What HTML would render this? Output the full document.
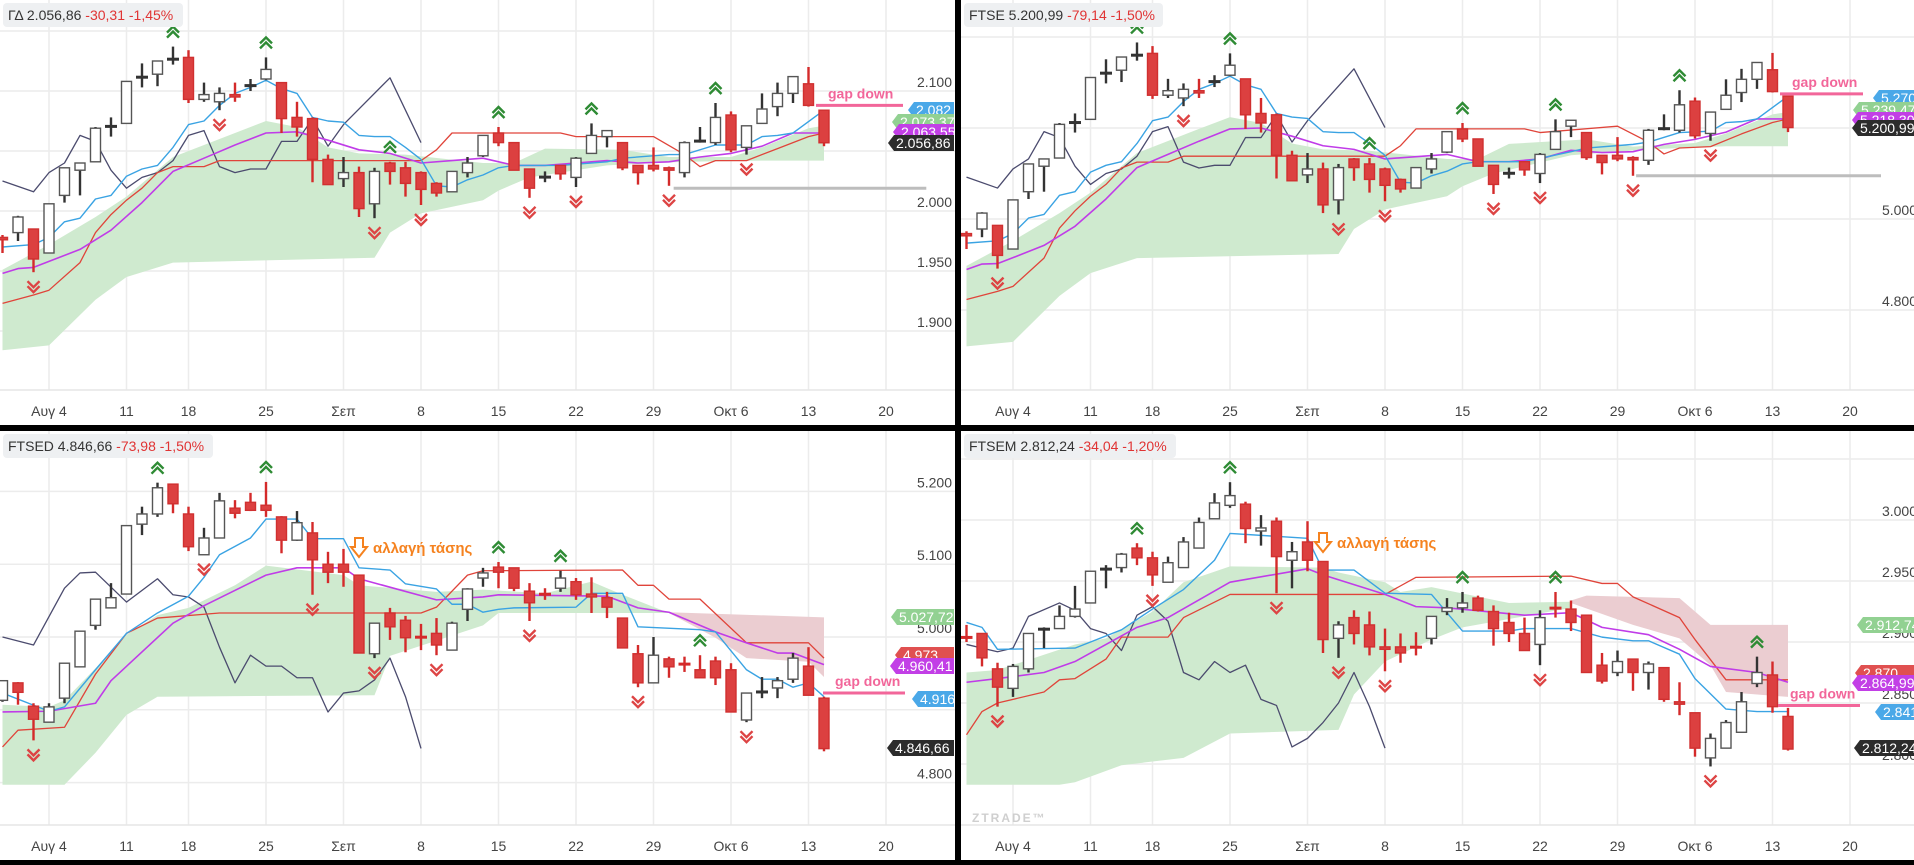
<!DOCTYPE html>
<html><head><meta charset="utf-8">
<style>
html,body{margin:0;padding:0;background:#000;}
svg{display:block;font-family:"Liberation Sans","DejaVu Sans",sans-serif;}
</style></head>
<body>
<svg id="chart" xmlns="http://www.w3.org/2000/svg" width="1914" height="865" viewBox="0 0 1914 865"></svg>
<script>
// ===== Panel 1 : ΓΔ =====
const p1Open=[1978,1982,1985,1965,2013,2034,2041,2070,2073,2111,2114,2126,2128,2093,2091,2097,2104,2110,2107,2078,2077,2043,2027,2032,2006,2040,2036,2032,2023,2016,2032,2046,2065,2057,2035,2028,2038,2028,2048,2062,2057,2038,2038,2036,2032,2058,2057,2080,2053,2073,2087,2098,2106,2084];
const p1Close=[1976,1995,1960,2006,2036,2040,2069,2071,2108,2112,2125,2127,2093,2097,2098,2095,2105,2118,2077,2070,2043,2022,2032,2002,2033,2033,2023,2018,2015,2033,2040,2063,2057,2034,2019,2028.5,2031,2044,2063,2067,2036,2032,2035,2034,2057,2058.5,2078,2051,2071,2085,2098,2112,2088,2056.86];
const p1High=[1980,1996,1985,2006,2036,2040,2070,2078,2108,2123,2125,2137,2134,2107,2103,2107,2110,2128,2107,2091,2078,2047,2045,2037,2036,2041,2041,2033,2024,2033,2045,2063,2070,2057,2035,2033,2038,2045,2073,2067,2057,2038,2053,2037,2058,2070,2090,2083,2071,2098,2107,2112,2120,2084];
const p1Low=[1965,1975,1949,1965,2007,2013,2041,2062,2073,2103,2104,2122,2090,2091,2084,2091,2100,2109,2065,2062,2024,2022,2020,1995,1994,2022,2012,2005,2012,2016,2028,2045,2054,2034,2011,2024,2026,2020,2048,2053,2034,2022,2033,2021,2028,2057,2055,2049,2047,2073,2079,2090,2087,2054];
const p1Tenkan=[[0,1970],[2,1972],[3,1978],[4,1991],[5,1994],[6,2010],[7,2013],[8,2029],[9,2035],[10,2038],[11,2053],[12,2072],[13,2075],[14,2088],[15,2098],[16,2103],[17,2109],[18,2102],[19,2098],[20,2078],[21,2075],[22,2074],[23,2063],[24,2062],[25,2062],[26,2053],[27,2043],[28,2021],[29,2020],[30,2026],[31,2030],[32,2036],[33,2038],[36,2038],[39,2041],[40,2044],[43,2047],[44,2047],[46,2055],[48,2055],[49,2062],[50,2063],[51,2065],[53,2084]];
const p1Average=[[0,1948],[1,1952],[2,1953],[3,1958],[5,1968],[7,1984],[9,2007],[11,2033],[13,2044],[15,2055],[17,2065],[19,2066],[21,2059],[23,2051],[25,2048],[27,2040],[29,2042],[31,2044],[33,2038],[35,2038],[37,2040],[39,2042],[41,2040],[43,2041],[45,2045],[47,2048],[49,2054],[51,2065],[53,2065]];
const p1Kijun=[[0,1923],[2,1930],[3,1934],[5,1957],[6,1982],[7,1997],[8,2009],[9,2019],[10,2032],[11,2037],[13,2037],[14,2042],[27,2042],[28,2051],[29,2065],[36,2065],[37,2062],[42,2062],[44,2047],[45,2037],[46,2042],[48,2042],[50,2052],[52,2062],[53,2065]];
const p1Chikou=[[0,2025],[2,2016],[3,2032],[4,2040],[5,2063],[6,2058],[7,2034],[8,2019],[9,2028],[10,2032],[11,2042],[12,2063],[13,2067],[14,2037],[15,2032],[16,2035],[17,2035],[18,2058],[19,2058],[20,2077],[21,2054],[22,2072],[25,2111],[27,2057]];
const p1CloudTop=[[0,1951],[3,1972],[6,1995],[8,2012],[11,2045],[15,2065],[17,2075],[19,2070],[21,2053],[23,2048],[26,2047],[31,2040],[33,2040],[35,2052],[40,2051],[43,2045],[47,2045],[49,2053],[52,2069],[53,2071]];
const p1CloudBottom=[[0,1884],[3,1888],[6,1926],[8,1945],[11,1957],[24,1961],[25,1982],[27,1998],[31,2009],[32,2017],[34,2028],[39,2038],[44,2041],[49,2042],[53,2042]];
const p1Up=[11,17,25,32,38,46];
const p1Down=[2,14,24,27,34,37,43,48];
const p1Grid=[2150,2100,2050,2000,1950,1900];
const p1Ticks=[2100,2000,1950,1900];

// ===== Panel 2 : FTSE =====
const p2Open=[4968,4978,4986,4934,5060,5116,5134,5211,5219,5319,5327,5359,5364,5272,5266,5282,5301,5316,5308,5232,5229,5140,5097,5110,5042,5132,5121,5110,5087,5068,5110,5147,5198,5176,5118,5100,5126,5100,5153,5204,5190,5140,5140,5135,5129,5198,5195,5259,5188,5241,5278,5307,5328,5270];
const p2Close=[4963,5013,4920,5042,5121,5132,5208,5213,5311,5322,5356,5361,5272,5282,5285,5277,5303,5338,5229,5211,5140,5084,5110,5031,5113,5113,5087,5074,5066,5113,5132,5192,5176,5116,5076,5101,5108,5142,5192,5217,5135,5124,5132,5130,5195,5199,5251,5183,5235,5272,5307,5344,5280,5200.99];
const p2High=[4973,5015,4986,5042,5121,5132,5211,5232,5311,5351,5356,5388,5380,5308,5298,5308,5316,5364,5308,5266,5232,5150,5145,5124,5121,5134,5134,5113,5089,5113,5145,5192,5211,5176,5118,5113,5126,5145,5219,5217,5190,5140,5180,5138,5198,5230,5283,5267,5235,5307,5330,5344,5365,5270];
const p2Low=[4934,4960,4891,4934,5044,5060,5134,5190,5219,5298,5301,5348,5264,5266,5248,5266,5290,5314,5198,5190,5089,5084,5079,5013,5010,5084,5058,5039,5058,5068,5100,5145,5169,5116,5055,5089,5095,5079,5153,5180,5130,5098,5127,5095,5119,5195,5190,5177,5172,5241,5257,5286,5278,5191];
const p2Tenkan=[[0,4947],[2,4952],[3,4968],[4,5002],[5,5010],[6,5052],[7,5060],[8,5103],[9,5118],[10,5126],[11,5166],[12,5216],[13,5224],[14,5258],[15,5285],[16,5298],[17,5314],[18,5295],[19,5285],[20,5232],[21,5224],[22,5221],[23,5192],[24,5190],[25,5190],[26,5166],[27,5140],[28,5081],[29,5079],[30,5095],[31,5105],[32,5121],[33,5126],[36,5126],[39,5148],[40,5156],[43,5164],[44,5169],[46,5190],[48,5193],[49,5212],[50,5214],[51,5220],[53,5270]];
const p2Average=[[0,4889],[1,4901],[2,4902],[3,4915],[5,4942],[7,4984],[9,5044],[11,5113],[13,5142],[15,5171],[17,5198],[19,5200],[21,5182],[23,5161],[25,5153],[27,5132],[29,5137],[31,5142],[33,5126],[35,5126],[37,5132],[39,5151],[41,5146],[43,5148],[45,5164],[47,5175],[49,5191],[51,5220],[53,5220]];
const p2Kijun=[[0,4823],[2,4841],[3,4852],[5,4914],[6,4980],[7,5018],[8,5050],[9,5076],[10,5112],[11,5125],[13,5125],[14,5138],[27,5138],[28,5161],[29,5198],[36,5198],[37,5190],[42,5204],[44,5169],[45,5143],[46,5156],[48,5159],[50,5187],[52,5212],[53,5220]];
const p2Chikou=[[0,5092],[2,5068],[3,5110],[4,5132],[5,5192],[6,5179],[7,5116],[8,5076],[9,5100],[10,5110],[11,5138],[12,5192],[13,5203],[14,5125],[15,5112],[16,5118],[17,5118],[18,5179],[19,5179],[20,5229],[21,5169],[22,5216],[25,5330],[27,5201]];
const p2CloudTop=[[0,4897],[3,4952],[6,5013],[8,5058],[11,5145],[15,5198],[17,5224],[19,5211],[21,5166],[23,5153],[26,5150],[31,5132],[33,5132],[35,5165],[40,5175],[43,5159],[47,5167],[49,5188],[52,5230],[53,5235]];
const p2CloudBottom=[[0,4720],[3,4730],[6,4831],[8,4881],[11,4914],[24,4923],[25,4978],[27,5021],[31,5050],[32,5072],[34,5100],[39,5140],[44,5153],[49,5160],[53,5160]];
const p2Up=[11,17,26,32,38,46];
const p2Down=[2,14,24,27,34,37,43,48];
const p2Grid=[5400,5200,5000,4800];
const p2Ticks=[5000,4800];

// ===== Panel 3 : FTSED =====
const p3Open=[4913,4937,4905,4883,4916,4959,5016,5040,5059,5155,5169,5210,5169,5113,5136,5177,5185,5181,5165,5133,5143,5100,5100,5085,4977,5033,5023,5000,5005,4982,5038,5081,5096,5095,5063,5059,5067,5076,5059,5054,5026,4977,4937,4970,4963,4955,4967,4955,4886,4924,4930,4942,4960,4916];
const p3Close=[4940,4924,4887,4904,4964,5008,5052,5054,5153,5169,5205,5183,5124,5136,5187,5170,5174,5174,5133,5157,5106,5089,5089,4978,5019,5014,4999,4999.5,4989,5019,5066,5088,5089,5067,5047,5058.5,5081,5058,5055,5041,4985,4937,4975,4959,4962.5,4944,4944,4897,4923,4925,4940,4971,4920,4846.66];
const p3High=[4940,4938,4909,4909,4964,5008,5052,5074,5153,5179,5212,5210,5179,5150,5198,5188,5198,5213,5166,5173,5158,5117,5121,5085,5019,5040,5029,5018,5026,5021,5067,5095,5103,5095,5074,5067,5091,5081,5082,5062,5026,4989,5000,4973,4973,4975,4973,4964,4923,4945,4945,4978,4986,4918];
const p3Low=[4911,4907,4858,4883,4909,4959,5010,5040,5059,5140,5165,5170,5118,5113,5136,5163,5173,5165,5115,5132,5058,5074,5069,4978,4971,4996,4979,4982,4975,4982,5022,5069,5067,5063,5022,5051,5062,5051,5033,5026,4985,4931,4937,4944,4952,4944,4934,4897,4883,4916,4916,4937,4920,4843];
const p3Tenkan=[[0,4923],[3,4898],[4,4904],[6,4955],[8,5005],[10,5033],[12,5056],[13,5082],[14,5113],[16,5136],[17,5162],[19,5162],[20,5135],[22,5135],[23,5095],[25,5092],[26,5073],[28,5066],[29,5045],[30,5045],[31,5034],[32,5038],[33,5040],[37,5041],[38,5060],[40,5060],[41,5014],[45,5010],[46,5007],[48,4955],[49,4942],[50,4942],[51,4931],[52,4937],[53,4918]];
const p3Average=[[0,4897],[3,4898],[6,4909],[7,4940],[11,5019],[13,5043],[17,5085],[19,5095],[22,5095],[23,5080],[28,5051],[31,5055],[32,5058],[39,5056],[41,5040],[43,5034],[46,5007],[48,4992],[50,4978],[51,4978],[53,4962]];
const p3Kijun=[[0,4849],[1,4872],[4,4876],[6,4949],[8,5005],[10,5026],[14,5033],[27,5033],[28,5041],[30,5085],[31,5091],[40,5092],[41,5071],[42,5071],[43,5052],[45,5052],[48,4992],[52,4992],[53,4971]];
const p3Chikou=[[0,5000],[2,4989],[4,5067],[5,5088],[6,5089],[8,5048],[10,5080],[11,5058],[12,5055],[13,5041],[14,4986],[15,4937],[16,4975],[17,4960],[18,4960],[19,4944],[20,4944],[21,4897],[22,4923],[23,4926],[24,4941],[25,4971],[26,4918],[27,4847]];
const p3CloudTop=[[0,4907],[3,4904],[4,4913],[6,4957],[8,5003],[10,5030],[12,5040],[15,5071],[17,5098],[22,5085],[23,5071],[28,5062],[31,5065],[35,5060],[38,5076],[40,5058],[43,5033]];
const p3CloudBottom=[[0,4797],[4,4797],[6,4841],[8,4893],[10,4918],[24,4920],[25,4974],[31,5016],[32,5033],[43,5033]];
const p3RedCloudTop=[[43,5034],[53,5027]];
const p3RedCloudBottom=[[43,5033],[46,4999],[48,4971],[52,4966],[53,4945]];
const p3Up=[10,17,32,36,45];
const p3Down=[2,13,20,24,28,34,41,48];
const p3Grid=[5200,5100,5000,4900,4800];
const p3Ticks=[5200,5100,5000,4800];

// ===== Panel 4 : FTSEM =====
const p4Open=[2904,2907,2878,2862,2878,2910,2911,2921,2932,2959.5,2961,2977,2969,2949,2961,2977,3001,3012,3013,2991,2999,2967,2982,2966,2903,2920,2914,2896,2896,2896,2903,2925,2928,2936,2925,2916,2907,2898,2928,2927,2922,2881,2875,2886,2875,2879,2851,2842,2805,2813,2826,2866,2873,2839];
const p4Close=[2903.5,2887,2863,2880,2907,2911,2921,2927,2958,2960,2972,2969,2955,2965,2982,2998,3014,3020,2993,2993.5,2970,2974,2967,2902,2914,2907,2896,2894,2891,2895.5,2921,2928,2932,2926,2911,2907,2893,2920,2927.5,2916,2875,2868,2884,2875,2882,2853,2849,2813,2821,2834,2851,2875,2847,2812.24];
const p4High=[2914,2907,2883,2882,2907,2912,2930,2946,2958,2963,2973,2981,2974,2970,2986,3002,3022,3031,3015,3004,3002,2982,2999,2966,2917,2926,2925,2911,2907,2908,2921,2936,2941,2938,2930,2924,2920,2926,2941,2934,2922,2891,2893,2886,2884,2879,2867,2842,2825,2836,2859,2888,2884,2846];
const p4Low=[2900,2880,2847,2855,2875,2895,2911,2920,2932,2944,2957,2963,2946,2949,2961,2977,3001,3010,2981,2979,2940,2944,2958,2891,2887,2898,2889,2876,2883,2889,2898,2922,2924,2925,2897,2900,2893,2881,2920,2909,2875,2866,2872,2860,2861,2851,2840,2806,2798,2813,2826,2863,2842,2811];
const p4Tenkan=[[0,2916],[1,2912],[2,2894],[7,2895],[10,2910],[12,2927],[14,2943],[16,2967],[17,2989],[22,2985],[23,2959],[25,2959],[27,2940],[30,2939],[32,2909],[35,2909],[36,2911],[39,2911],[41,2904],[43,2901],[44,2901],[46,2890],[47,2870],[49,2845],[51,2843],[53,2843]];
const p4Average=[[0,2867],[2,2870],[5,2875],[7,2884],[11,2912],[13,2920],[17,2949],[22,2960],[23,2955],[27,2939],[29,2929],[31,2928],[36,2922],[39,2924],[41,2912],[44,2906],[46,2894],[48,2880],[51,2875],[53,2867]];
const p4Kijun=[[0,2824],[1,2843],[2,2850],[5,2859],[6,2869],[7,2870],[9,2886],[10,2904],[13,2904],[14,2920],[17,2939],[27,2939],[29,2953],[39,2954],[41,2948],[42,2948],[43,2937],[46,2920],[47,2902],[49,2869],[53,2869]];
const p4Chikou=[[0,2898],[2,2892],[3,2895],[4,2921],[6,2932],[7,2926],[8,2911],[9,2907],[10,2893],[11,2922],[12,2929],[13,2917],[14,2875],[15,2869],[16,2884],[17,2875],[18,2881],[19,2853],[20,2848],[21,2814],[22,2821],[23,2834],[24,2850],[25,2875],[26,2847],[27,2813]];
const p4CloudTop=[[0,2875],[2,2877],[7,2898],[9,2903],[12,2925],[14,2949],[17,2962],[23,2961],[24,2957],[27,2949],[28,2941],[30,2945],[35,2932],[39,2933]];
const p4CloudBottom=[[0,2783],[6,2783],[7,2785],[10,2799],[14,2805],[17,2825],[24,2828],[25,2857],[27,2884],[30,2902],[32,2912],[39,2928]];
const p4RedCloudTop=[[39,2934],[40,2938],[46,2936],[48,2914],[53,2914]];
const p4RedCloudBottom=[[39,2932],[43,2914],[46,2903],[48,2881],[49,2859],[53,2855]];
const p4Up=[11,17,32,38,51];
const p4Down=[2,12,20,24,27,37,48];
const p4Grid=[3050,3000,2950,2900,2850,2800];
const p4Ticks=[3000,2950,2900,2850,2800];

const xLabels=['Αυγ 4','11','18','25','Σεπ','8','15','22','29','Οκτ 6','13','20'];
const xLabelIdx=[3,8,12,17,22,27,32,37,42,47,52,57];

const NS='http://www.w3.org/2000/svg';
const svg=document.getElementById('chart');
function mk(tag,attrs,parent){const e=document.createElementNS(NS,tag);for(const k in attrs)e.setAttribute(k,attrs[k]);parent.appendChild(e);return e;}
function fmt(v){return String(v).replace(/\B(?=(\d{3})+(?!\d))/g,'.');}

const panels=[
 {id:'gd',rx:0,rw:955,ox:0,oy:0,y0:211,v0:2000,k:1.2,axis:390,lab:411,tickX:952,
  o:p1Open,c:p1Close,h:p1High,l:p1Low,ten:p1Tenkan,avg:p1Average,kij:p1Kijun,chi:p1Chikou,ct:p1CloudTop,cb:p1CloudBottom,rt:null,rb:null,up:p1Up,dn:p1Down,grid:p1Grid,ticks:p1Ticks,
  title:'ΓΔ 2.056,86',chg:'-30,31 -1,45%',tw:180,
  tags:[['#4aa8e8','2.082',110,908],['#92d192','2.073,37',122,892],['#c23fe6','2.063,55',132,893],['#2c2c2c','2.056,86',143,888]],
  support:[2019,43.3,59.6],gap:[2088,816,903],arrow:null},
 {id:'ftse',rx:961,rw:953,ox:964,oy:0,y0:219,v0:5000,k:0.455,axis:390,lab:411,tickX:953,
  o:p2Open,c:p2Close,h:p2High,l:p2Low,ten:p2Tenkan,avg:p2Average,kij:p2Kijun,chi:p2Chikou,ct:p2CloudTop,cb:p2CloudBottom,rt:null,rb:null,up:p2Up,dn:p2Down,grid:p2Grid,ticks:p2Ticks,
  title:'FTSE 5.200,99',chg:'-79,14 -1,50%',tw:199,
  tags:[['#4aa8e8','5.270',98,909],['#92d192','5.239,47',110,889],['#c23fe6','5.218,30',120,888],['#2c2c2c','5.200,99',128,888]],
  support:[5095,43.2,59],gap:[5275,816,899],arrow:null},
 {id:'ftsed',rx:0,rw:955,ox:0,oy:425,y0:212,v0:5000,k:0.728,axis:400,lab:421,tickX:952,
  o:p3Open,c:p3Close,h:p3High,l:p3Low,ten:p3Tenkan,avg:p3Average,kij:p3Kijun,chi:p3Chikou,ct:p3CloudTop,cb:p3CloudBottom,rt:p3RedCloudTop,rb:p3RedCloudBottom,up:p3Up,dn:p3Down,grid:p3Grid,ticks:p3Ticks,
  title:'FTSED 4.846,66',chg:'-73,98 -1,50%',tw:210,
  tags:[['#92d192','5.027,72',192,891],['#e05050','4.973',230,895],['#c23fe6','4.960,41',241,890],['#4aa8e8','4.916',274,912],['#2c2c2c','4.846,66',323,887]],
  support:null,gap:[4923,823,905],arrow:[359,123]},
 {id:'ftsem',rx:961,rw:953,ox:964,oy:425,y0:339,v0:2800,k:1.22,axis:400,lab:421,tickX:953,
  o:p4Open,c:p4Close,h:p4High,l:p4Low,ten:p4Tenkan,avg:p4Average,kij:p4Kijun,chi:p4Chikou,ct:p4CloudTop,cb:p4CloudBottom,rt:p4RedCloudTop,rb:p4RedCloudBottom,up:p4Up,dn:p4Down,grid:p4Grid,ticks:p4Ticks,
  title:'FTSEM 2.812,24',chg:'-34,04 -1,20%',tw:212,
  tags:[['#92d192','2.912,74',200,893],['#e05050','2.870',248,891],['#c23fe6','2.864,99',258,888],['#4aa8e8','2.841',287,911],['#2c2c2c','2.812,24',323,890]],
  support:null,gap:[2848,814,896],arrow:[359,118]}
];

panels.forEach(function(P){
  const py=(P.oy===0)?0:431;
  const g=mk('g',{},svg);
  
  
  const bg=mk('rect',{x:P.rx,y:py,width:P.rw,height:(P.oy===0?425:429),fill:'#ffffff'},g);
  
  
  const cid='clip-'+P.id;
  const cp=mk('clipPath',{id:cid},g);
  mk('rect',{x:P.rx,y:py,width:P.rw,height:(P.oy===0?425:429)},cp);
  const X=i=>P.ox+2.5+15.5*i;
  const Y=v=>P.oy+P.y0-(v-P.v0)*P.k;
  P.grid.forEach(function(v){
    const ln=mk('line',{x1:P.rx,x2:P.rx+P.rw,y1:Y(v),y2:Y(v),stroke:'#ececec','stroke-width':1.5},g);
    
    
  });
  xLabelIdx.forEach(function(i){
    const ln=mk('line',{x1:X(i),x2:X(i),y1:py,y2:P.oy+P.axis,stroke:'#ececec','stroke-width':1.5},g);
    
    
  });
  const ax=mk('line',{x1:P.rx,x2:P.rx+P.rw,y1:P.oy+P.axis,y2:P.oy+P.axis,stroke:'#e6e6e6','stroke-width':1.5},g);
  
  
  const plot=mk('g',{'clip-path':'url(#'+cid+')'},g);
  
  
  function area(top,bot,fill,name){
    const pts=top.map(p=>X(p[0])+','+Y(p[1])).concat(bot.slice().reverse().map(p=>X(p[0])+','+Y(p[1])));
    const a=mk('polygon',{points:pts.join(' '),fill:fill},plot);
    
    
  }
  area(P.ct,P.cb,'#cfeacf','ichimoku-cloud-bullish');
  if(P.rt) area(P.rt,P.rb,'#ebcdd1','ichimoku-cloud-bearish');
  function line(arr,color,w,name){
    const l=mk('polyline',{points:arr.map(p=>X(p[0])+','+Y(p[1])).join(' '),fill:'none',stroke:color,'stroke-width':w,'stroke-linejoin':'round'},plot);
    
    
  }
  line(P.chi,'#4b4b6e',1.3,'chikou-span-line');
  line(P.kij,'#e0443a',1.3,'kijun-sen-line');
  line(P.avg,'#c03ce8',1.6,'moving-average-line');
  line(P.ten,'#3aa3e3',1.4,'tenkan-sen-line');
  if(P.support){
    const s=mk('line',{x1:X(P.support[1]),x2:X(P.support[2]),y1:Y(P.support[0]),y2:Y(P.support[0]),stroke:'#bdbdbd','stroke-width':3},plot);
    
    
  }
  for(let i=0;i<P.o.length;i++){
    const o=P.o[i],c=P.c[i],x=X(i);
    const up=c>=o;
    const small=Math.abs(Y(o)-Y(c))<2;
    const col=up?'#333333':'#d42a2a';
    const cg=mk('g',{},plot);
    
    
    const wk=mk('line',{x1:x,x2:x,y1:Y(P.h[i]),y2:Y(P.l[i]),stroke:col,'stroke-width':2.4},cg);
    
    
    if(small){
      const t=mk('rect',{x:x-6,y:Y((o+c)/2)-1.5,width:12,height:3,fill:col},cg);
      
      
    }else{
      const top=Y(Math.max(o,c)),bot=Y(Math.min(o,c));
      const b=mk('rect',{x:x-5,y:top,width:10,height:bot-top,fill:up?'#ffffff':'#dc4040',stroke:up?'#555555':'#d03030','stroke-width':1.4},cg);
      
      
    }
  }
  P.up.forEach(function(i){
    const x=X(i),y=Y(P.h[i])-15;
    const m=mk('path',{d:`M${x-6},${y+1}L${x},${y-5}L${x+6},${y+1}M${x-6},${y+6}L${x},${y}L${x+6},${y+6}`,fill:'none',stroke:'#2e8b34','stroke-width':2.4},plot);
    
    
  });
  P.dn.forEach(function(i){
    const x=X(i),y=Y(P.l[i])+15;
    const m=mk('path',{d:`M${x-6},${y-6}L${x},${y}L${x+6},${y-6}M${x-6},${y-1}L${x},${y+5}L${x+6},${y-1}`,fill:'none',stroke:'#dd4444','stroke-width':2.4},plot);
    
    
  });
  const gy=Y(P.gap[0]);
  const gl=mk('line',{x1:P.ox+P.gap[1],x2:P.ox+P.gap[2],y1:gy,y2:gy,stroke:'#f2669a','stroke-width':3},g);
  
  
  const gt=mk('text',{x:P.ox+P.gap[1]+12,y:gy-7,fill:'#f2669a','font-size':14,'font-weight':'bold'},g);
  gt.textContent='gap down';
  
  
  if(P.arrow){
    const ax0=P.ox+P.arrow[0],ay=P.oy+P.arrow[1];
    const ar=mk('polygon',{points:`${ax0-4},${ay-10} ${ax0+4},${ay-10} ${ax0+4},${ay-1} ${ax0+8},${ay-1} ${ax0},${ay+9} ${ax0-8},${ay-1} ${ax0-4},${ay-1}`,fill:'#ffffff',stroke:'#f5821f','stroke-width':2},g);
    
    
    const at=mk('text',{x:ax0+14,y:ay+5,fill:'#f5821f','font-size':15,'font-weight':'bold'},g);
    at.textContent='αλλαγή τάσης';
    
    
  }
  P.ticks.forEach(function(v){
    const t=mk('text',{x:P.ox+P.tickX,y:Y(v)-4,'text-anchor':'end',fill:'#444','font-size':14},g);
    t.textContent=fmt(v);
    
    
  });
  xLabelIdx.forEach(function(i,j){
    const t=mk('text',{x:X(i),y:P.oy+P.lab+5,'text-anchor':'middle',fill:'#444','font-size':14},g);
    t.textContent=xLabels[j];
    
    
  });
  P.tags.forEach(function(tg){
    const x0=P.ox+tg[3],yc=P.oy+tg[2],x1=P.ox+954;
    const tgG=mk('g',{},g);
    
    
    mk('path',{d:`M${x0},${yc}L${x0+6},${yc-8}L${x1},${yc-8}L${x1},${yc+8}L${x0+6},${yc+8}Z`,fill:tg[0]},tgG);
    const tt=mk('text',{x:x0+8,y:yc+5,fill:'#ffffff','font-size':14},tgG);
    tt.textContent=tg[1];
  });
  const tb=mk('rect',{x:P.rx+3,y:py+3,width:P.tw,height:24,rx:4,fill:'#eef0f2'},g);
  
  
  const tt=mk('text',{x:P.rx+8,y:py+20,'font-size':14,fill:'#333'},g);
  
  
  const s1=mk('tspan',{},tt);s1.textContent=P.title+'  ';
  const s2=mk('tspan',{fill:'#e03434'},tt);s2.textContent=P.chg;
});
const wm=mk('text',{x:972,y:822,'font-size':12,fill:'#cfcfcf','letter-spacing':'2','font-weight':'bold'},svg);
wm.textContent='ZTRADE™';


</script>
</body></html>
